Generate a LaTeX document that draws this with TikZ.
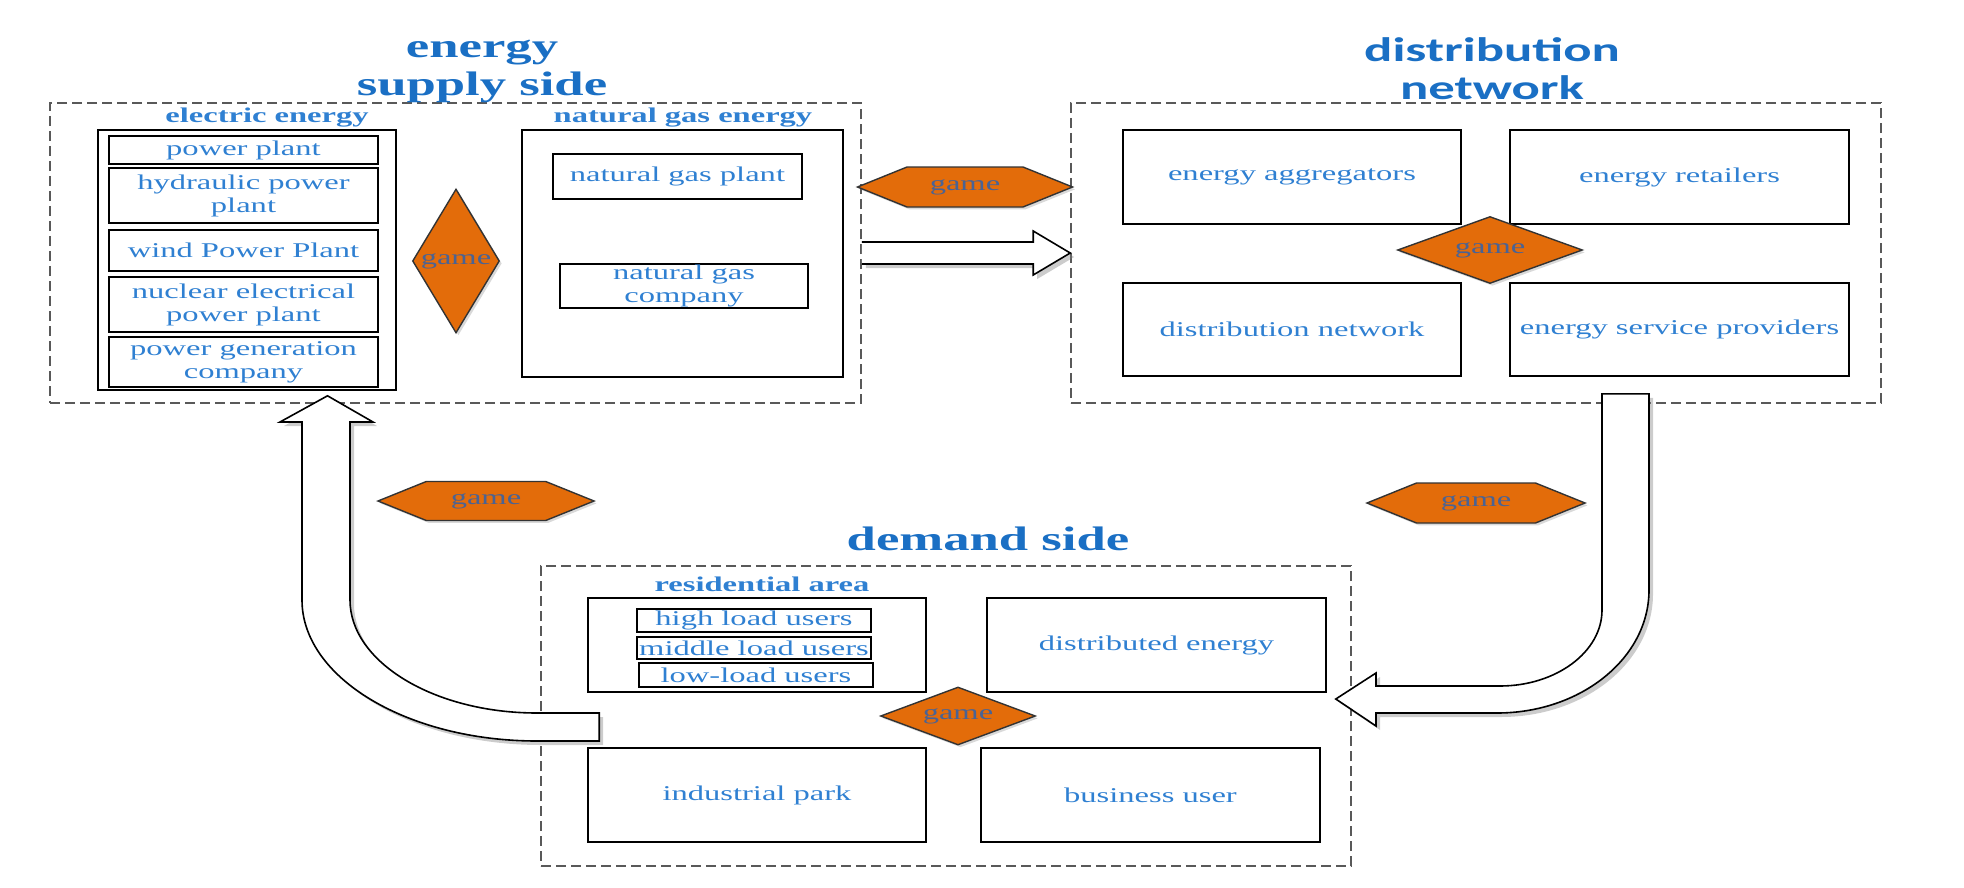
\documentclass[tikz,border=0pt]{standalone}
\usepackage{fontspec}
\setmainfont{Liberation Serif}[FakeStretch=1.55]
\newfontfamily\headsans{Carlito}[FakeStretch=1.55]
\usetikzlibrary{shapes.geometric,shapes.symbols,shadows,calc}

\definecolor{titleblue}{HTML}{1A6FC4}
\definecolor{boxblue}{HTML}{2F80D2}
\definecolor{gameorange}{HTML}{E36C0A}
\definecolor{gametext}{HTML}{4A6394}

\newcommand{\boxfont}{\fontsize{10.5}{11.5}\selectfont}

\tikzset{
	boxsize/.style 2 args={minimum width=#1*0.5pt,minimum height=#2*0.5pt},
	sidebox/.style={draw=black!65,line width=0.8pt,dash pattern=on 5pt off 2.5pt,inner sep=0pt},
	groupbox/.style={draw,line width=0.9pt,inner sep=0pt},
	unitbox/.style={draw,line width=0.8pt,fill=white,inner sep=0pt,align=center,text=boxblue,font=\boxfont},
	grouplabel/.style={font=\fontsize{10.5}{12}\selectfont\bfseries,text=boxblue},
	sidetitle/.style={font=\fontsize{17}{19}\selectfont\bfseries,text=titleblue,align=center},
	gameshadow/.style={drop shadow={opacity=0.3,shadow xshift=1.2pt,shadow yshift=-1.2pt}},
	gamehex/.style={signal,signal to=west and east,signal pointer angle=44,draw=black!80,line width=0.7pt,
		fill=gameorange,inner sep=0pt,text=gametext,font=\boxfont,gameshadow},
	gamediamond/.style={diamond,draw=black!80,line width=0.7pt,fill=gameorange,inner sep=0pt,
		text=gametext,font=\boxfont,gameshadow},
	fatarrow/.style={draw,line width=0.8pt,fill=white,line join=miter,
		drop shadow={opacity=0.4,shadow xshift=2pt,shadow yshift=-2pt}}
}

\begin{document}
\begin{tikzpicture}[x=0.5pt,y=-0.5pt]
		\useasboundingbox (0,0) rectangle (1964,888);

		% the three sides
		\node[sidebox,boxsize={811}{300}] (supply) at (455.5,253) {};
		\node[sidebox,boxsize={810}{300}] (dist) at (1476,253) {};
		\node[sidebox,boxsize={810}{300}] (demand) at (946,716) {};

		\node[sidetitle] (supplytitle) at (482,71) {energy\\supply side};
		\node[sidetitle,font=\fontsize{17}{19}\selectfont\headsans\bfseries] (disttitle) at (1492,69) {distribution\\network};
		\node[sidetitle] (demandtitle) at (988,539) {demand side};

		% energy supply side
		\node[grouplabel] (eltitle) at (267,118) {electric energy};
		\node[groupbox,boxsize={298}{260}] (electric) at (247,260) {};
		\node[unitbox,boxsize={269}{28}] (pplant) at (243.5,150) {power plant};
		\node[unitbox,boxsize={269}{55}] (hydro) at (243.5,195.5) {hydraulic power\\plant};
		\node[unitbox,boxsize={269}{41}] (wind) at (243.5,250.5) {wind Power Plant};
		\node[unitbox,boxsize={269}{55}] (nuclear) at (243.5,304.5) {nuclear electrical\\power plant};
		\node[unitbox,boxsize={269}{50}] (gencomp) at (243.5,362) {power generation\\company};

		\node[gamediamond,boxsize={87}{144}] (gamesupply) at (456,261) {\makebox[0pt]{game}};

		\node[grouplabel] (gastitle) at (683,118) {natural gas energy};
		\node[groupbox,boxsize={321}{247}] (gas) at (682.5,253.5) {};
		\node[unitbox,boxsize={249}{45}] (gasplant) at (677.5,176.5) {natural gas plant};
		\node[unitbox,boxsize={248}{44}] (gascomp) at (684,286) {natural gas\\company};

		% distribution network
		\node[unitbox,boxsize={338}{94}] (aggreg) at (1292,177) {energy aggregators};
		\node[unitbox,boxsize={339}{94}] (retail) at (1679.5,177) {energy retailers};
		\node[unitbox,boxsize={338}{93}] (distnet) at (1292,329.5) {distribution network};
		\node[unitbox,boxsize={339}{93}] (service) at (1679.5,329.5) {energy service providers};
		\node[gamediamond,boxsize={185}{67}] (gamedist) at (1490,250) {\makebox[0pt]{game}};

		% demand side
		\node[grouplabel] (restitle) at (762,584) {residential area};
		\node[unitbox,boxsize={338}{94}] (resid) at (757,645) {};
		\node[unitbox,boxsize={234}{23}] (highload) at (754,620.5) {high load users};
		\node[unitbox,boxsize={234}{22}] (midload) at (754,648) {middle load users};
		\node[unitbox,boxsize={234}{24}] (lowload) at (756,675) {low-load users};
		\node[unitbox,boxsize={339}{94}] (distrib) at (1156.5,645) {distributed energy};
		\node[unitbox,boxsize={338}{94}] (indust) at (757,795) {industrial park};
		\node[unitbox,boxsize={339}{94}] (business) at (1150.5,795) {business user};
		\node[gamediamond,boxsize={155}{58}] (gamedemand) at (958,716) {\makebox[0pt]{game}};

		% games between the sides
		\node[gamehex,boxsize={215}{40}] (gametop) at (965,187) {game};
		\node[gamehex,boxsize={216}{39}] (gameleft) at (486,501) {game};
		\node[gamehex,boxsize={218}{40}] (gameright) at (1476,503) {game};

		% energy flow
		\draw[fatarrow] ($(supply.east)+(0,-11)$) -- ($(dist.west)+(-37,-11)$) -- ($(dist.west)+(-37,-22)$)
			-- (dist.west) -- ($(dist.west)+(-37,22)$) -- ($(dist.west)+(-37,11)$) -- ($(supply.east)+(0,11)$);
		\draw[fatarrow] ($(dist.south)+(126,-10)$) -- ($(dist.south)+(173,-10)$) -- (1649,590)
			.. controls (1649,658) and (1581,713) .. (1497,713) -- (1376,713) -- (1376,726)
			-- ($(demand.east)+(-16,-17)$) -- (1376,673) -- (1376,686) -- (1500,686)
			.. controls (1556,686) and (1602,652) .. (1602,610) -- cycle;
		\draw[fatarrow] ($(demand.west)+(59,-3)$) -- (537,713) .. controls (434,713) and (350,662) .. (350,600)
			-- (350,422) -- (373,422) -- ($(supply.south)+(-128,-8)$) -- (280,422) -- (302,422) -- (302,600)
			.. controls (302,678) and (408,741) .. (537,741) -- ($(demand.west)+(59,25)$) -- cycle;
	\end{tikzpicture}
\end{document}
